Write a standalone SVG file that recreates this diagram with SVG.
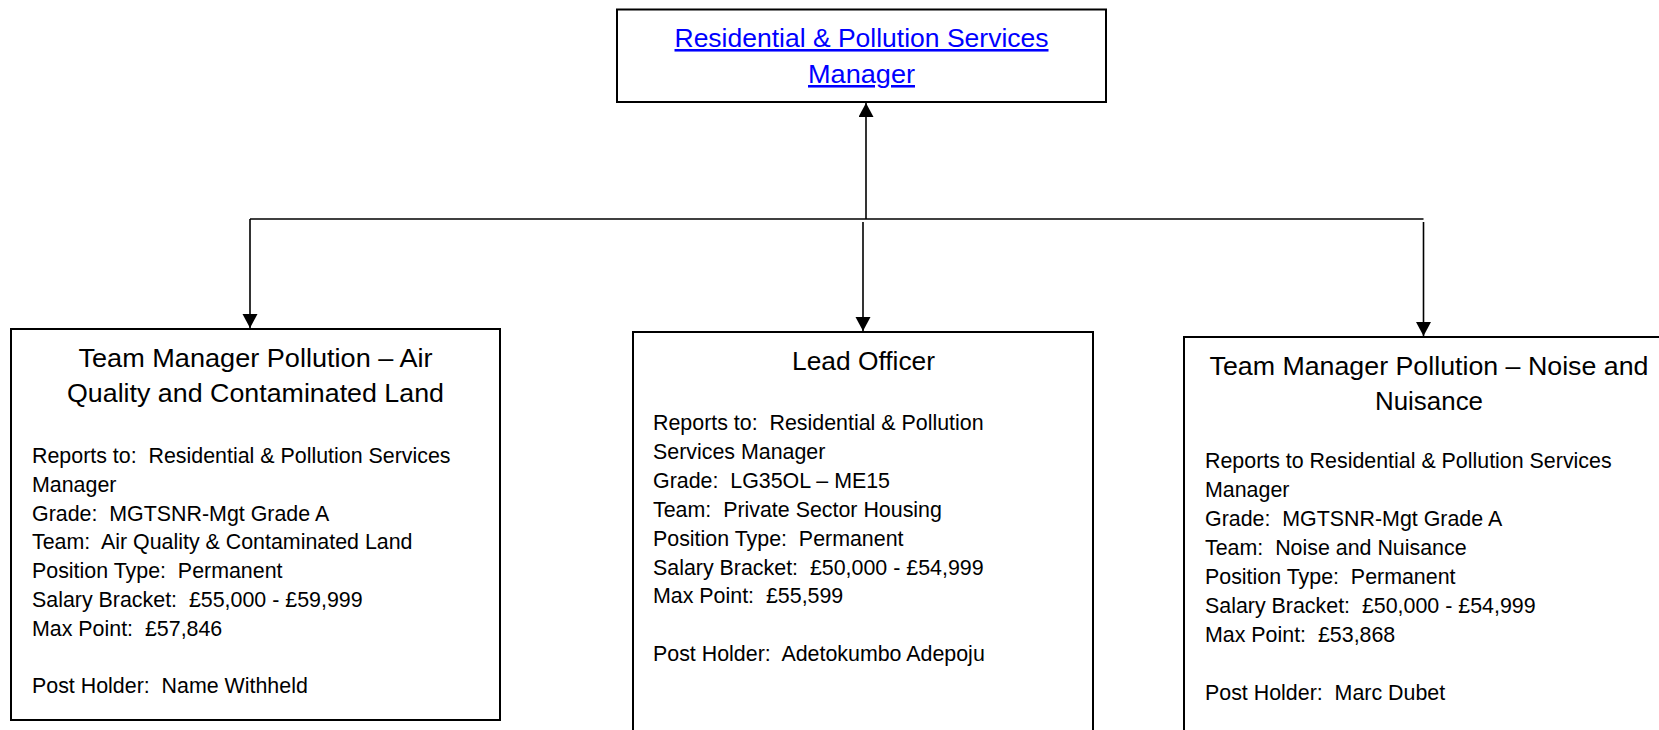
<svg xmlns="http://www.w3.org/2000/svg" width="1659" height="730" viewBox="0 0 1659 730">
<style>
.box{fill:#fff;stroke:#000;stroke-width:2}
.conn{fill:none;stroke:#000;stroke-width:1.6}
.title{font-family:"Liberation Sans",Arial,sans-serif;font-size:25.5px;fill:#000;text-anchor:middle}
.body{font-family:"Liberation Sans",Arial,sans-serif;font-size:21.4px;fill:#000;white-space:pre}
.link{font-family:"Liberation Sans",Arial,sans-serif;font-size:25.5px;fill:#0000FF;text-anchor:middle;text-decoration:underline}
</style>
<defs>
<marker id="arrow" markerUnits="userSpaceOnUse" markerWidth="16" markerHeight="16" refX="14" refY="7.5" orient="auto">
<path d="M0,0 L14,7.5 L0,15 Z" fill="#000"/>
</marker>
</defs>
<rect width="1659" height="730" fill="#fff"/>
<g id="connectors">
<path class="conn" d="M866,219 L866,103" marker-end="url(#arrow)"/>
<path class="conn" d="M250,219 L1423.5,219"/>
<path class="conn" d="M250,219 L250,328" marker-end="url(#arrow)"/>
<path class="conn" d="M863,222 L863,331" marker-end="url(#arrow)"/>
<path class="conn" d="M1423.5,222 L1423.5,336" marker-end="url(#arrow)"/>
</g>
<g id="node-manager">
<rect class="box" x="617" y="9.5" width="489" height="92.5"/>
<text class="link" x="861.5" y="47" textLength="374" lengthAdjust="spacingAndGlyphs">Residential &amp; Pollution Services</text>
<text class="link" x="861.5" y="83" textLength="107" lengthAdjust="spacingAndGlyphs">Manager</text>
</g>
<g id="node-air">
<rect class="box" x="11" y="329" width="489" height="391"/>
<text class="title" x="255.5" y="367" textLength="354" lengthAdjust="spacingAndGlyphs">Team Manager Pollution – Air</text>
<text class="title" x="255.5" y="402" textLength="377" lengthAdjust="spacingAndGlyphs">Quality and Contaminated Land</text>
<text class="body" x="32" y="463">Reports to:&#160; Residential &amp; Pollution Services</text>
<text class="body" x="32" y="491.8">Manager</text>
<text class="body" x="32" y="520.6">Grade:&#160; MGTSNR-Mgt Grade A</text>
<text class="body" x="32" y="549.4">Team:&#160; Air Quality &amp; Contaminated Land</text>
<text class="body" x="32" y="578.2">Position Type:&#160; Permanent</text>
<text class="body" x="32" y="607">Salary Bracket:&#160; £55,000 - £59,999</text>
<text class="body" x="32" y="635.8">Max Point:&#160; £57,846</text>
<text class="body" x="32" y="693.4">Post Holder:&#160; Name Withheld</text>
</g>
<g id="node-lead">
<rect class="box" x="633" y="332" width="460" height="420"/>
<text class="title" x="863.5" y="370" textLength="143" lengthAdjust="spacingAndGlyphs">Lead Officer</text>
<text class="body" x="653" y="430">Reports to:&#160; Residential &amp; Pollution</text>
<text class="body" x="653" y="458.9">Services Manager</text>
<text class="body" x="653" y="487.8">Grade:&#160; LG35OL – ME15</text>
<text class="body" x="653" y="516.7">Team:&#160; Private Sector Housing</text>
<text class="body" x="653" y="545.6">Position Type:&#160; Permanent</text>
<text class="body" x="653" y="574.5">Salary Bracket:&#160; £50,000 - £54,999</text>
<text class="body" x="653" y="603.4">Max Point:&#160; £55,599</text>
<text class="body" x="653" y="661.2">Post Holder:&#160; Adetokumbo Adepoju</text>
</g>
<g id="node-noise">
<rect class="box" x="1184" y="337" width="490" height="420"/>
<text class="title" x="1429" y="375" textLength="439" lengthAdjust="spacingAndGlyphs">Team Manager Pollution – Noise and</text>
<text class="title" x="1429" y="410" textLength="108" lengthAdjust="spacingAndGlyphs">Nuisance</text>
<text class="body" x="1205" y="468">Reports to Residential &amp; Pollution Services</text>
<text class="body" x="1205" y="497">Manager</text>
<text class="body" x="1205" y="526">Grade:&#160; MGTSNR-Mgt Grade A</text>
<text class="body" x="1205" y="555">Team:&#160; Noise and Nuisance</text>
<text class="body" x="1205" y="584">Position Type:&#160; Permanent</text>
<text class="body" x="1205" y="613">Salary Bracket:&#160; £50,000 - £54,999</text>
<text class="body" x="1205" y="642">Max Point:&#160; £53,868</text>
<text class="body" x="1205" y="700">Post Holder:&#160; Marc Dubet</text>
</g>
</svg>
